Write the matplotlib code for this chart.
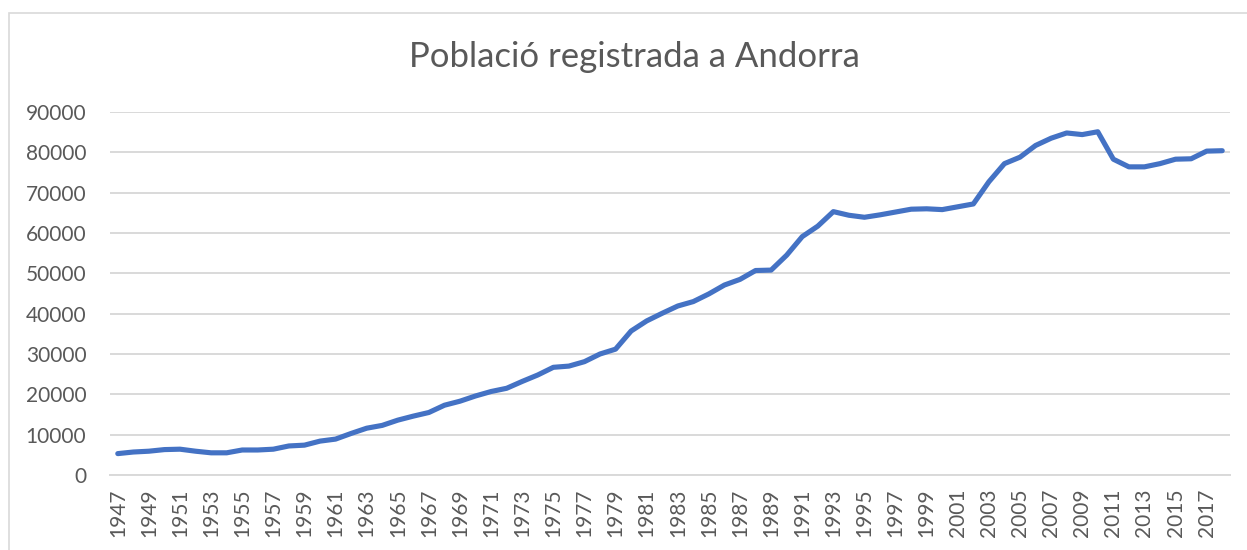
import matplotlib
matplotlib.use("Agg")
import matplotlib.pyplot as plt
from matplotlib.patches import Rectangle

# Registered population of Andorra, 1947-2018
years = list(range(1947, 2019))
population = [
    5300, 5700, 5900, 6300, 6400, 5900, 5500, 5500, 6200, 6200,
    6400, 7200, 7400, 8400, 8900, 10300, 11600, 12300, 13600, 14600,
    15500, 17300, 18300, 19600, 20700, 21500, 23200, 24800, 26700, 27000,
    28100, 30000, 31200, 35700, 38200, 40100, 41900, 43000, 44900, 47100,
    48500, 50700, 50800, 54500, 59100, 61700, 65300, 64400, 63900, 64500,
    65200, 65900, 66000, 65800, 66500, 67200, 72700, 77200, 78800, 81700,
    83500, 84800, 84400, 85100, 78300, 76400, 76400, 77200, 78300, 78400,
    80300, 80400,
]
y_ticks = list(range(0, 90001, 10000))
x_ticks = list(range(1947, 2018, 2))
title = "Població registrada a Andorra"

LINE = "#4472C4"
TEXT = "#595959"
GRID = "#D9D9D9"

W, H = 1247, 550
fig = plt.figure(figsize=(W / 100, H / 100), dpi=100)
fig.patch.set_facecolor("white")

# chart-area outline (only top and left edges fall inside the crop)
fig.patches.append(Rectangle((9 / W, -0.05), 1.2, 1.05 - 13 / H,
                             transform=fig.transFigure, fill=False,
                             edgecolor="#D9D9D9", linewidth=1.2))

ax = fig.add_axes([110 / W, 1 - 475 / H, (1230 - 110) / W, (475 - 112) / H])
ax.plot(years, population, color=LINE, linewidth=3.7, solid_joinstyle="round",
        solid_capstyle="round", zorder=3)

ax.set_xlim(1946.5, 2018.5)
ax.set_ylim(0, 90000)
ax.set_yticks(y_ticks)
ax.set_yticklabels([str(v) for v in y_ticks])
ax.set_xticks(x_ticks)
ax.set_xticklabels([str(v) for v in x_ticks], rotation=90)

ax.grid(axis="y", color=GRID, linewidth=1.4, zorder=0)
for s in ["top", "right", "left"]:
    ax.spines[s].set_visible(False)
ax.spines["bottom"].set_color(GRID)
ax.spines["bottom"].set_linewidth(1.4)
ax.tick_params(axis="both", length=0, labelcolor=TEXT, labelsize=15)
ax.tick_params(axis="y", pad=17)
ax.tick_params(axis="x", pad=10)
for lbl in ax.get_xticklabels() + ax.get_yticklabels():
    lbl.set_family("Lato")

fig.text(634 / W, 1 - 57 / H, title, ha="center", va="center",
         fontsize=25, color=TEXT, family="Lato")

fig.savefig("out.png", dpi=100, facecolor="white")
